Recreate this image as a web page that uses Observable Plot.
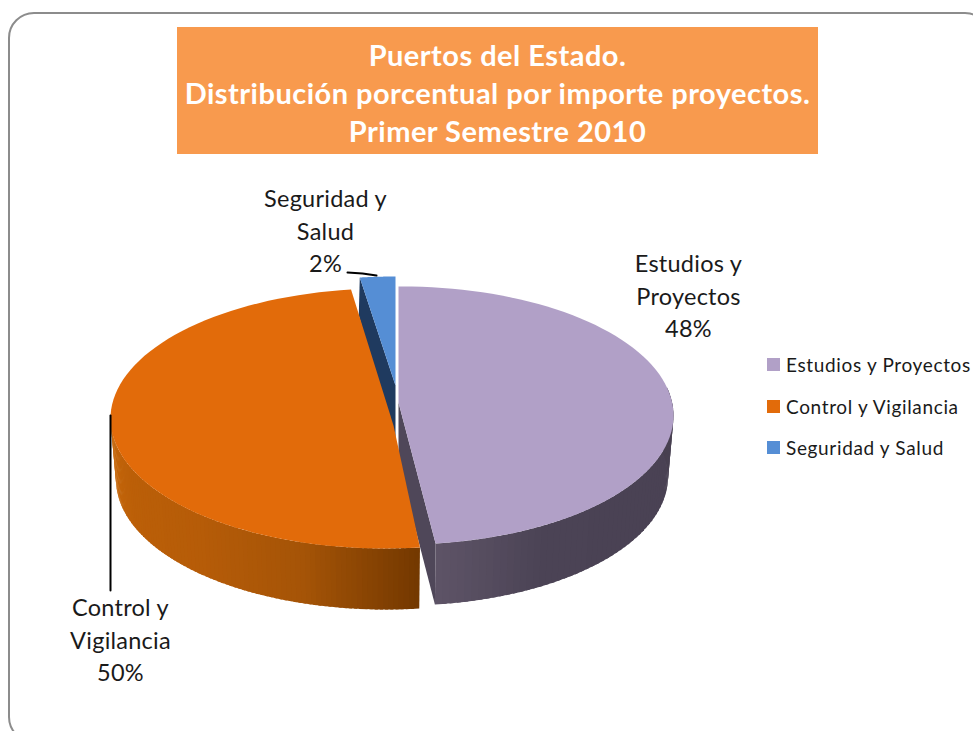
<!DOCTYPE html>
<html><head><meta charset="utf-8">
<script src="https://cdn.jsdelivr.net/npm/d3@7"></script>
<script src="https://cdn.jsdelivr.net/npm/@observablehq/plot@0.6"></script>
<style>
html,body{margin:0;padding:0;background:#fff;overflow:hidden;width:973px;height:731px}
#frame{position:absolute;left:8px;top:12px;width:983px;height:731px;border:2px solid #8c8c8c;border-radius:26px;box-sizing:border-box}
#title{position:absolute;left:177px;top:27px;width:641px;height:127px;background:#F89A4E;color:#fff;font:bold 29px/38px Lato,sans-serif;letter-spacing:.48px;text-align:center;white-space:nowrap;padding-top:9px;box-sizing:border-box}
#legend{position:absolute;left:767px;top:0;font:19px Lato,sans-serif;letter-spacing:.65px;color:#1a1a1a}
.row{position:absolute;left:0;white-space:nowrap;height:20px;line-height:20px}
.sw{position:absolute;left:0;top:3px;width:13px;height:13px}
.lb{position:absolute;left:19px;top:0}
#chart{position:absolute;left:0;top:0}
</style></head><body>
<div id="frame"></div>
<div id="chart"></div>
<div id="title"></div>
<div id="legend"></div>
<script>
// data
const categories = ["Estudios y Proyectos","Control y Vigilancia","Seguridad y Salud"];
const shares = [48,50,2];
const colors = ["#B1A0C7","#E26B0A","#558ED5"];
const titleLines = ["Puertos del Estado.","Distribución porcentual por importe proyectos.","Primer Semestre 2010"];
const labelLines = [["Estudios y","Proyectos"],["Control y","Vigilancia"],["Seguridad y","Salud"]];

// look of the tilted pie: one exploded ellipse per slice
const depth = 61;
const lowerScale = 0.98;
const view = [
  {cx:401,cy:415,rx:272,ry:129,ax:398,ay:402},
  {cx:385,cy:418,rx:275,ry:130,ax:393,ay:425},
  {cx:395,cy:405,rx:285,ry:129,ax:395,ay:385}
];
const labelPos = [[688,264],[120,608],[325,199]];
const lineStep = 32.5;

const turn = 2*Math.PI;
let start = 0;
const total = d3.sum(shares);
const slices = shares.map((v,i)=>{const a0=start; start+=v/total*turn; return {i,a0,a1:start};});
const pt = (s,a,dz=0)=>{const w=view[s.i]; return [w.cx+w.rx*(dz?lowerScale:1)*Math.sin(a), w.cy-w.ry*Math.cos(a)+dz];};
const arc = (s,a0,a1)=>d3.range(0,81).map(k=>pt(s,a0+(a1-a0)*k/80));

const polys = [];
const add = (id,points,color)=>points.forEach(p=>polys.push({id,x:p[0],y:p[1],color}));
const apex = (s,dz=0)=>[view[s.i].ax,view[s.i].ay+dz];

const [sE,sC,sS] = slices;
// Seguridad: dark cut face, then top
const sp = pt(sS,sS.a0);
add("s-face",[sp,apex(sS),apex(sS,depth),[sp[0]-1,sp[1]+38]],"#1f3a5f");
add("s-top",[apex(sS),...arc(sS,sS.a0,sS.a1)],colors[2]);

// outer wall as overlapping strips shaded along the arc
const wall = (s,a0,a1,n,stops,key)=>{
  const ramp = d3.piecewise(d3.interpolateRgb,stops);
  for(let k=0;k<n;k++){
    const b0=a0+(a1-a0)*k/n, b1=a0+(a1-a0)*Math.min(n,k+1.6)/n;
    add(key+k,[pt(s,b0),pt(s,b1),pt(s,b1,depth),pt(s,b0,depth)],ramp((k+.5)/n));
  }
};
// Estudios
add("e-face",[apex(sE),pt(sE,sE.a1),pt(sE,sE.a1,depth),apex(sE,depth)],"#4f4759");
wall(sE,sE.a1,1.35,60,["#5e5467","#4b4355","#4a4254","#4a4254","#47404f"],"e-w");
add("e-top",[apex(sE),[view[0].ax,view[0].cy-view[0].ry],...arc(sE,sE.a0,sE.a1)],colors[0]);
// Control
wall(sC,sC.a0,4.75,90,["#733800","#a55407","#b65c08","#bb5f08","#c96a0c"],"c-w");
add("c-top",[apex(sC),...arc(sC,sC.a0,sC.a1)],colors[1]);

// leader lines
const leaders = [
  {id:"c",x:110,y:415},{id:"c",x:110,y:590},
  {id:"s",x:347,y:272},{id:"s",x:362,y:273},{id:"s",x:376,y:275}
];

// data labels
const labels = categories.map((c,i)=>({lines:[...labelLines[i],shares[i]+"%"],x:labelPos[i][0],y:labelPos[i][1]}))
  .flatMap(l=>l.lines.map((t,k)=>({text:t,x:l.x,y:l.y+k*lineStep})));

const chart = Plot.plot({
  width:973,height:731,margin:0,
  style:{background:"transparent",overflow:"visible",letterSpacing:".25px"},
  x:{domain:[0,973],range:[0,973],axis:null},
  y:{domain:[0,731],range:[0,731],axis:null},
  color:{type:"identity"},
  marks:[
    Plot.line(polys,{x:"x",y:"y",z:"id",fill:"color",stroke:null,curve:"linear"}),
    Plot.line(leaders,{x:"x",y:"y",z:"id",stroke:"#000",strokeWidth:2,curve:"linear"}),
    Plot.text(labels,{x:"x",y:"y",text:"text",fontSize:23.5,fontFamily:"Lato, sans-serif",fill:"#1a1a1a",textAnchor:"middle"})
  ]
});
document.getElementById("chart").append(chart);

// title and legend
document.getElementById("title").innerHTML = titleLines.map(t=>`<div>${t}</div>`).join("");
const legendY = [355,397,438];
document.getElementById("legend").innerHTML = categories.map((c,i)=>
  `<div class="row" style="top:${legendY[i]}px"><span class="sw" style="background:${colors[i]}"></span><span class="lb">${c}</span></div>`).join("");
</script>
</body></html>
